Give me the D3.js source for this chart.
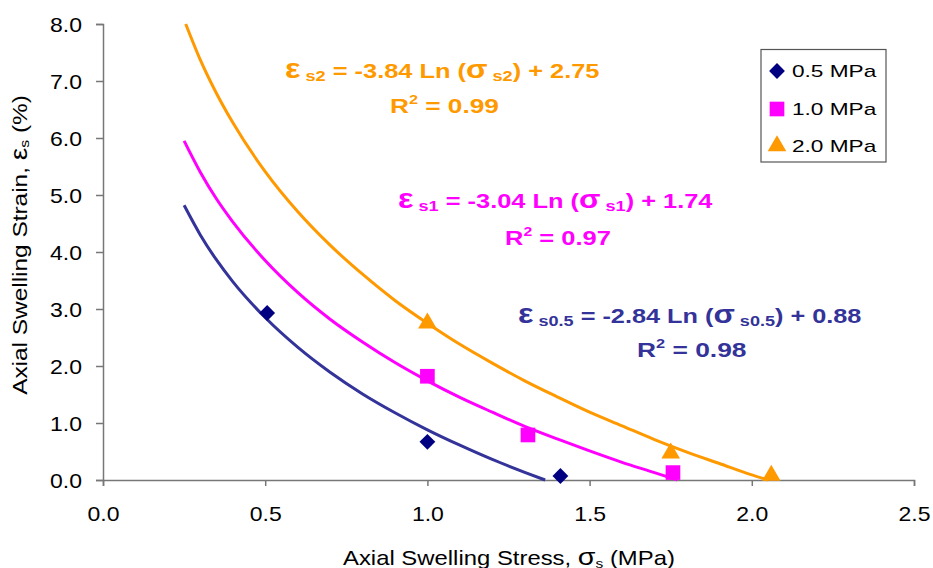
<!DOCTYPE html>
<html>
<head>
<meta charset="utf-8">
<script src="https://cdn.jsdelivr.net/npm/d3@7"></script>
<style>
  body { margin: 0; background: #fff; }
  svg { font-family: "Liberation Sans", Arial, sans-serif; }
</style>
</head>
<body>
<div class="chart"></div>
<script>
// measured points (stress MPa, strain %)
var pts05 = [[0.506, 2.93], [1.0, 0.67], [1.41, 0.07]];
var pts10 = [[1.0, 1.82], [1.31, 0.79], [1.757, 0.13]];
var pts20 = [[1.0, 2.75], [1.75, 0.47], [2.06, 0.08]];

// trend lines
var trend05 = [[0.25, 4.82], [0.3, 4.30], [0.35, 3.86], [0.4, 3.48], [0.5, 2.85], [0.6, 2.33], [0.7, 1.89],
  [0.8, 1.51], [0.9, 1.18], [1.0, 0.88], [1.1, 0.61], [1.2, 0.36], [1.3, 0.135], [1.363, 0.0]];
var trend10 = [[0.25, 5.95], [0.3, 5.40], [0.35, 4.93], [0.4, 4.53], [0.5, 3.85], [0.6, 3.29], [0.7, 2.82],
  [0.8, 2.42], [0.9, 2.06], [1.0, 1.74], [1.1, 1.45], [1.2, 1.19], [1.3, 0.94], [1.4, 0.72], [1.5, 0.51],
  [1.6, 0.31], [1.7, 0.13], [1.77, 0.0]];
var trend20 = [[0.255, 8.0], [0.3, 7.37], [0.35, 6.78], [0.4, 6.27], [0.5, 5.41], [0.6, 4.71], [0.7, 4.12],
  [0.8, 3.61], [0.9, 3.15], [1.0, 2.75], [1.1, 2.38], [1.2, 2.05], [1.3, 1.74], [1.4, 1.46], [1.5, 1.19],
  [1.6, 0.95], [1.7, 0.71], [1.8, 0.49], [1.9, 0.29], [2.0, 0.09], [2.05, 0.0]];

var legendLabels = ["0.5 MPa", "1.0 MPa", "2.0 MPa"];
var xTicks = [0, 0.5, 1.0, 1.5, 2.0, 2.5];
var yTicks = [0, 1, 2, 3, 4, 5, 6, 7, 8];

var svgWidth = 933, svgHeight = 568;
var stretch = 1.15; // reference text is a bit wide

var svg = d3.select(".chart").append("svg")
    .attr("width", svgWidth)
    .attr("height", svgHeight);

var x = d3.scaleLinear().domain([0, 2.5]).range([103, 914]);
var y = d3.scaleLinear().domain([0, 8]).range([480, 24]);

var axisColor = "#777";

// squeeze / stretch a text so it spans [left, left+width] horizontally
function fitText(t, left, width) {
    var b = t.node().getBBox();
    var sx = width / b.width;
    t.attr("transform", "translate(" + (left - b.x * sx) + ",0) scale(" + sx + ",1)");
}

// axes
var xAxis = d3.axisBottom(x).tickValues(xTicks).tickFormat(d3.format(".1f")).tickSize(6);
var yAxis = d3.axisLeft(y).tickValues(yTicks).tickFormat(d3.format(".1f")).tickSize(7);

var gx = svg.append("g").attr("transform", "translate(0," + y(0) + ")").call(xAxis);
var gy = svg.append("g").attr("transform", "translate(" + x(0) + ",0)").call(yAxis);

[gx, gy].forEach(function(g) {
    g.select(".domain").attr("stroke", axisColor).attr("stroke-width", 1.5);
    g.selectAll(".tick line").attr("stroke", axisColor).attr("stroke-width", 1.5);
    g.selectAll(".tick text").attr("fill", "#000").attr("font-size", 20)
        .attr("font-family", "Liberation Sans, Arial, sans-serif")
        .attr("transform", "scale(" + stretch + ",1)");
});
gx.selectAll(".tick text").attr("y", 41).attr("dy", 0);
gy.selectAll(".tick text").attr("x", -21 / stretch).attr("dy", "0.36em");

// axis titles
var xTitle = svg.append("text")
    .attr("x", 0).attr("y", 565)
    .attr("font-size", 20)
    .html('Axial Swelling Stress, <tspan font-size="24">σ</tspan><tspan font-size="13" dy="3">s</tspan><tspan dy="-3"> (MPa)</tspan>');
fitText(xTitle, 343, 332);

var yTitle = svg.append("text")
    .attr("text-anchor", "middle")
    .attr("font-size", 20)
    .html('Axial Swelling Strain,  <tspan font-size="23">ε</tspan><tspan font-size="13" dy="2">s</tspan><tspan dy="-2"> (%)</tspan>');
var yb = yTitle.node().getBBox();
yTitle.attr("transform", "translate(27,245) rotate(-90) scale(" + (300 / yb.width) + ",1)");

// trend lines
var line = d3.line()
    .x(function(d) { return x(d[0]); })
    .y(function(d) { return y(d[1]); })
    .curve(d3.curveMonotoneX);

var series = [
    { trend: trend05, pts: pts05, line: "#333399", mark: "#000080", shape: d3.symbolSquare, size: 125, rot: 45 },
    { trend: trend10, pts: pts10, line: "#FF00FF", mark: "#FF00FF", shape: d3.symbolSquare, size: 215, rot: 0 },
    { trend: trend20, pts: pts20, line: "#FF9900", mark: "#FF9900", shape: d3.symbolTriangle, size: 150, rot: 0 }
];

series.forEach(function(s) {
    svg.append("path")
        .datum(s.trend)
        .attr("fill", "none")
        .attr("stroke", s.line)
        .attr("stroke-width", 3)
        .attr("d", line);
});

series.forEach(function(s) {
    svg.selectAll(null)
        .data(s.pts)
        .enter().append("path")
        .attr("d", d3.symbol().type(s.shape).size(s.size))
        .attr("fill", s.mark)
        .attr("transform", function(d) {
            return "translate(" + x(d[0]) + "," + y(d[1]) + ") rotate(" + s.rot + ")";
        });
});

// equations
function equation(eqLeft, eqWidth, y1, rLeft, rWidth, y2, color, sub, coef, icpt, r2) {
    var t = svg.append("text")
        .attr("x", 0).attr("y", y1)
        .attr("font-size", 21)
        .attr("font-weight", "bold")
        .attr("fill", color);
    t.append("tspan").attr("font-size", 27).text("ε");
    t.append("tspan").attr("font-size", 15).attr("dy", 3).text(" " + sub);
    t.append("tspan").attr("dy", -3).text(" = " + coef + " Ln (");
    t.append("tspan").attr("font-size", 26).text("σ");
    t.append("tspan").attr("font-size", 15).attr("dy", 3).text(" " + sub);
    t.append("tspan").attr("dy", -3).text(") + " + icpt);
    fitText(t, eqLeft, eqWidth);

    var r = svg.append("text")
        .attr("x", 0).attr("y", y2)
        .attr("font-size", 21)
        .attr("font-weight", "bold")
        .attr("fill", color);
    r.append("tspan").text("R");
    r.append("tspan").attr("font-size", 13).attr("dy", -9).text("2");
    r.append("tspan").attr("dy", 9).text(" = " + r2);
    fitText(r, rLeft, rWidth);
}

equation(285, 315, 78, 390, 109, 113, "#FF9900", "s2", "-3.84", "2.75", "0.99");
equation(398, 315, 208, 505, 106, 245, "#FF00FF", "s1", "-3.04", "1.74", "0.97");
equation(518, 344, 323, 637, 110, 357, "#333399", "s0.5", "-2.84", "0.88", "0.98");

// legend
var legend = svg.append("g");
legend.append("rect")
    .attr("x", 761).attr("y", 49.5)
    .attr("width", 125).attr("height", 112.5)
    .attr("fill", "#fff")
    .attr("stroke", "#555")
    .attr("stroke-width", 1.2);

var legendY = [71, 109, 146];
series.forEach(function(s, i) {
    legend.append("path")
        .attr("d", d3.symbol().type(s.shape).size(s.size))
        .attr("fill", s.mark)
        .attr("transform", "translate(777," + legendY[i] + ") rotate(" + s.rot + ")");
    var lt = legend.append("text")
        .attr("x", 0).attr("y", legendY[i] + 6)
        .attr("font-size", 17)
        .text(legendLabels[i]);
    fitText(lt, 792, 85);
});
</script>
</body>
</html>
